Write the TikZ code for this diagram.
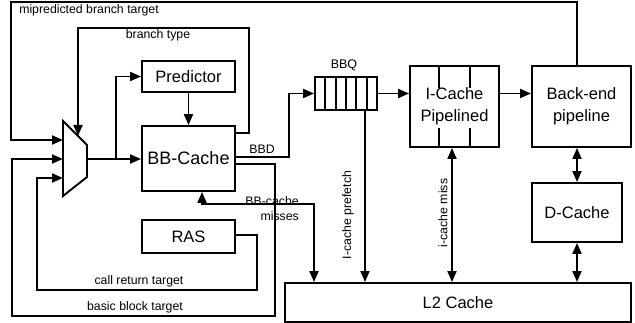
\documentclass[tikz,border=0pt]{standalone}
\usepackage{fontspec}
\setmainfont{Liberation Sans}
\usetikzlibrary{arrows.meta}
\tikzset{
  blk/.style={draw,line width=1.9pt,inner sep=0pt,align=center,font=\fontsize{16.5}{22}\selectfont},
  lbl/.style={inner sep=0pt,align=center,font=\fontsize{12.3}{15}\selectfont},
  arr/.style={line width=1.9pt,-{Triangle[length=11pt,width=9pt]}},
  arrb/.style={line width=1.9pt,{Triangle[length=11pt,width=9pt]}-{Triangle[length=11pt,width=9pt]}},
  wire/.style={line width=1.9pt}
}
\begin{document}
\begin{tikzpicture}[x=1pt,y=-1pt]
\useasboundingbox (0,0) rectangle (635,323);
\node[blk,minimum width=93pt,minimum height=31pt] (pred) at (188.5,76.5) {Predictor};
\node[blk,minimum width=93pt,minimum height=65pt,font=\fontsize{18}{22}\selectfont] (bbc) at (188.5,158.5) {BB-Cache};
\node[blk,minimum width=93pt,minimum height=33pt] (ras) at (188.5,236.5) {RAS};
\node[blk,minimum width=62pt,minimum height=33pt] (bbq) at (346,93.5) {};
\node[lbl,font=\fontsize{12.5}{15}\selectfont] (bbqlbl) at (344,65) {BBQ};
\node[blk,minimum width=89pt,minimum height=81pt] (icache) at (454.5,106.5) {I-Cache\\Pipelined};
\node[blk,minimum width=99pt,minimum height=81pt] (backend) at (581.5,106.5) {Back-end\\pipeline};
\node[blk,minimum width=90pt,minimum height=59pt] (dcache) at (577,212.5) {D-Cache};
\node[blk,minimum width=346pt,minimum height=39pt] (l2) at (458,302.5) {L2 Cache};

\foreach \k in {1,...,5}
  \draw[wire] (315+10.33*\k,77) -- (315+10.33*\k,110);
\foreach \xx in {439,470} {
  \draw[wire] (\xx,66) -- (\xx,88);
  \draw[wire] (\xx,128) -- (\xx,147);
}

\draw[wire] (63,121) -- (87,145) -- (87,177) -- (63,196) -- cycle;
\coordinate (mA) at (63,140);
\coordinate (mB) at (63,159);
\coordinate (mC) at (63,178);
\coordinate (mO) at (87,159);
\coordinate (mT) at (78,136);

\draw[arr] (dcache |- backend.north) -- (dcache |- 0,2) -| (11,140) -- (mA);
\node[lbl] (mispred) at (89,10) {mipredicted branch target};
\draw[arr] (bbc.east |- 0,133) -| (249,28) -| (mT);
\node[lbl] (btype) at (158,35) {branch type};
\draw[arr] (mO) -- (bbc.west |- mO);
\draw[arr] (116,159) |- (pred.west);
\draw[arr] (pred) -- (bbc);
\draw[arr] (bbc.east |- 0,157) -| (289,93.5) -- (bbq.west);
\node[lbl] (bbd) at (262,149) {BBD};
\draw[arr] (bbc.east |- 0,164) -| (275,316) -| (12,159) -- (mB);
\node[lbl] (bbt) at (135,307) {basic block target};
\draw[arr] (ras.east |- 0,235) -| (257,290) -| (37,178) -- (mC);
\node[lbl] (crt) at (139,281) {call return target};
\draw[arrb] (bbc.south -| 202,0) |- (314,204) -- (l2.north -| 314,0);
\node[lbl,align=right,anchor=east] (miss) at (299,208.5) {BB-cache\\misses};
\draw[arr] (bbq.south -| 365,0) -- (l2.north -| 365,0);
\node[lbl,rotate=90] (pref) at (348,215) {I-cache prefetch};
\draw[arrb] (l2.north -| 452,0) -- (icache.south -| 452,0);
\node[lbl,rotate=90] (imiss) at (443,213) {i-cache miss};
\draw[arr] (bbq.east) -- (icache.west |- bbq.east);
\draw[arr] (icache.east |- bbq.east) -- (backend.west |- bbq.east);
\draw[arrb] (dcache |- backend.south) -- (dcache.north);
\draw[arrb] (dcache.south) -- (dcache |- l2.north);
\end{tikzpicture}
\end{document}
